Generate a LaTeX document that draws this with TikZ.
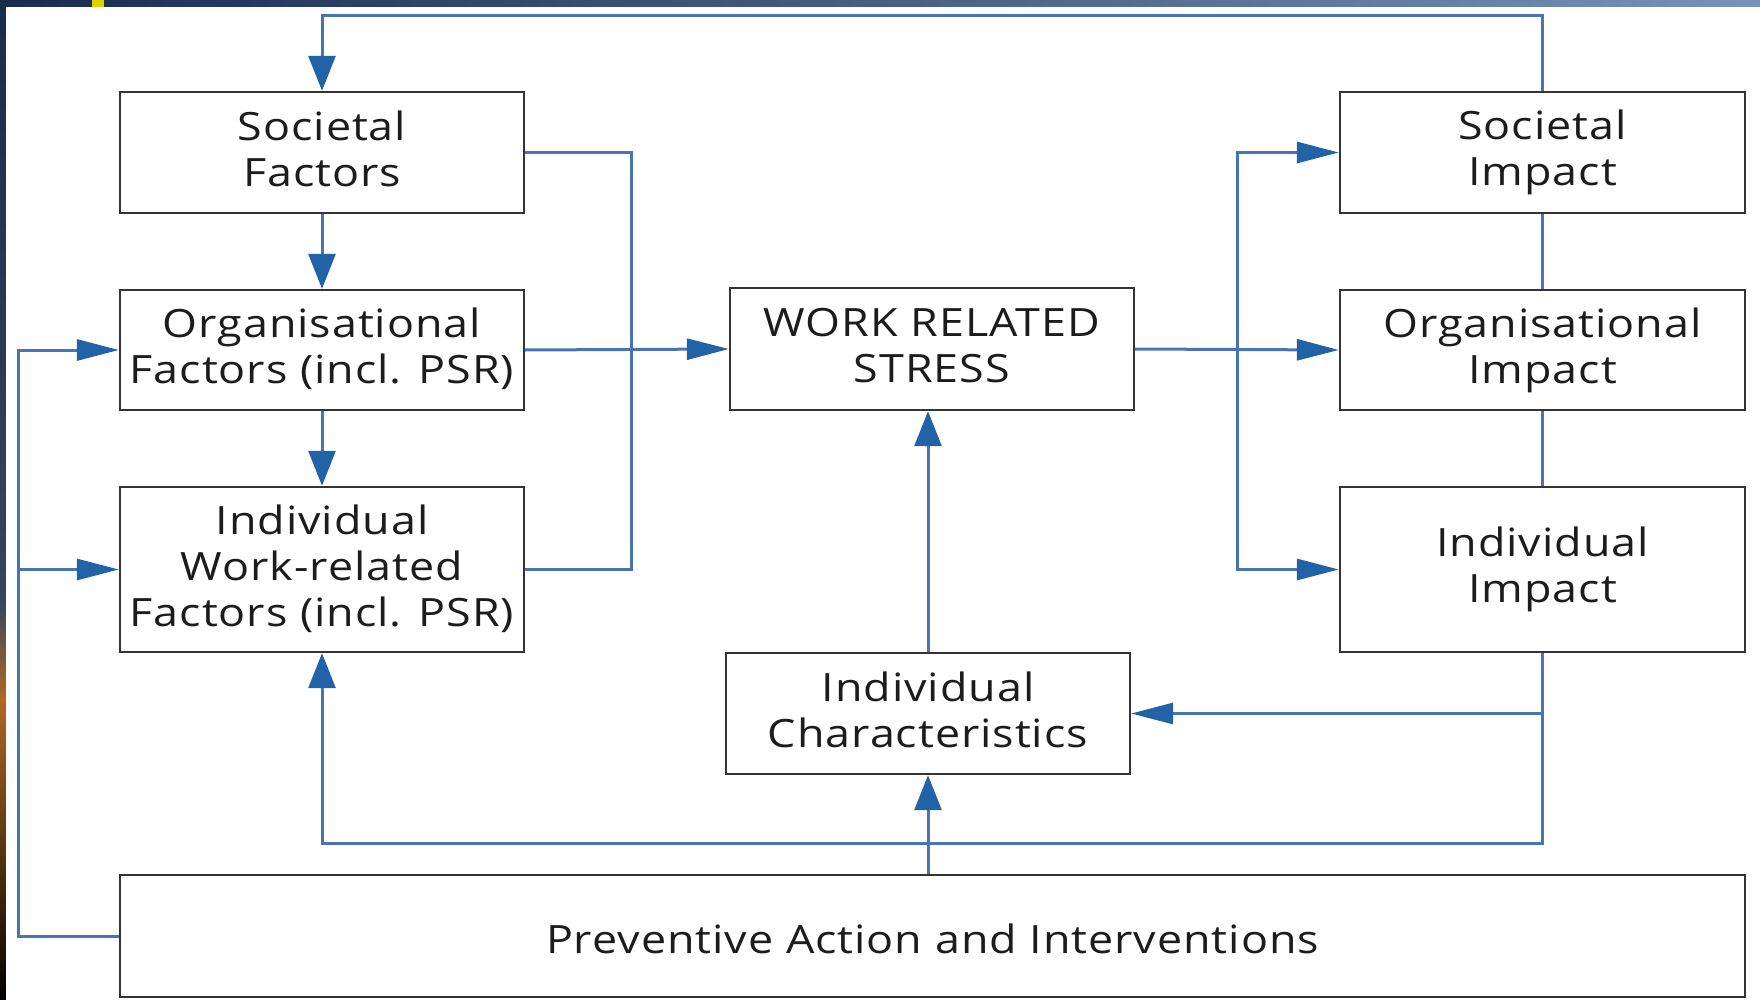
\documentclass[tikz,border=0pt]{standalone}
\usepackage{fontspec}
\setmainfont[FakeStretch=1.15,LetterSpace=2.5]{Open Sans}
\usepackage{tikz}
\usetikzlibrary{arrows.meta}
\definecolor{cLink}{RGB}{72,116,180}
\definecolor{cTip}{RGB}{34,98,166}
\definecolor{cBox}{RGB}{52,52,52}
\definecolor{cText}{RGB}{28,28,28}
\definecolor{cNavy}{RGB}{24,44,78}
\definecolor{cSteel}{RGB}{120,146,184}
\definecolor{cAmber}{RGB}{176,104,34}

\begin{document}
\begin{tikzpicture}[x=1pt,y=-1pt,
  box/.style={draw=cBox,line width=2.4pt,fill=white,minimum width=404pt,
    minimum height=121pt,align=center,inner sep=0pt,text=cText,
    font=\fontsize{39}{46}\selectfont,
    execute at begin node={\rule{0pt}{44pt}},
    execute at end node={\rule[-8pt]{0pt}{8pt}}},
  widebox/.style={box,minimum width=1625pt,minimum height=122pt,
    execute at begin node={\rule{0pt}{35pt}},
    execute at end node={\rule[-10pt]{0pt}{10pt}}},
  link/.style={draw=cLink,line width=3pt},
  htip/.style={-{Triangle[length=42pt,width=21pt,color=cTip]}},
  vtip/.style={-{Triangle[length=35pt,width=27pt,color=cTip]}}]
\useasboundingbox (0,0) rectangle (1760,1000);
% backdrop strips on top and left
\shade[left color=cNavy,right color=cSteel] (0,0) rectangle (1760,7);
\fill[yellow!70!olive] (92,0) rectangle (104,7);
\shade[top color=cNavy,bottom color=cNavy!70!gray] (0,0) rectangle (6,600);
\shade[top color=cNavy!70!gray,bottom color=cAmber] (0,600) rectangle (6,700);
\shade[top color=cAmber,bottom color=black] (0,700) rectangle (6,1000);
\fill[white] (6,7) rectangle (1760,1000);
% boxes
\node[box] (societal) at (322,152.5) {Societal\\Factors};
\node[box,minimum height=120pt] (org) at (322,350) {Organisational\\Factors (incl. PSR)};
\node[box,minimum height=165pt] (indiv) at (322,569.5) {Individual\\Work-related\\Factors (incl. PSR)};
\node[box,minimum height=122pt] (stress) at (932,349) {WORK RELATED\\STRESS};
\node[box] (chars) at (928,713.5) {Individual\\Characteristics};
\node[box,minimum width=405pt] (simpact) at (1542.5,152.5) {Societal\\Impact};
\node[box,minimum width=405pt,minimum height=120pt] (oimpact) at (1542.5,350) {Organisational\\Impact};
\node[box,minimum width=405pt,minimum height=165pt] (iimpact) at (1542.5,569.5) {Individual\\Impact};
\node[widebox] (prevent) at (932.5,936) {Preventive Action and Interventions};
% rails
\coordinate (roof) at (0,16);
\coordinate (floor) at (0,843);
\coordinate (lrail) at (18,0);
\coordinate (mrail) at (631,0);
\coordinate (rrail) at (1237,0);
% left column
\draw[link,vtip] (simpact.north) -- (simpact.north |- roof) -- (societal.north |- roof) -- (societal.north);
\draw[link,vtip] (societal.south) -- (org.north);
\draw[link,vtip] (org.south) -- (indiv.north);
\draw[link] (societal.east) -- (mrail |- societal.east) -- (mrail |- indiv.east) -- (indiv.east);
\draw[link,htip] (org.east) -- (stress.west);
% feedback from prevention
\draw[link,htip] (prevent.west) -- (lrail |- prevent.west) -- (lrail |- org.west) -- (org.west);
\draw[link,htip] (lrail |- indiv.west) -- (indiv.west);
\draw[link,vtip] (prevent.north -| chars.south) -- (chars.south);
\draw[link,vtip] (chars.north) -- (stress.south -| chars.north);
% impacts
\draw[link,htip] (stress.east) -- (oimpact.west);
\draw[link,{Triangle[length=42pt,width=21pt,color=cTip]}-{Triangle[length=42pt,width=21pt,color=cTip]}] (simpact.west) -- (rrail |- simpact.west) -- (rrail |- iimpact.west) -- (iimpact.west);
\draw[link] (simpact.south) -- (oimpact.north);
\draw[link] (oimpact.south) -- (iimpact.north);
\draw[link,vtip] (iimpact.south) -- (iimpact.south |- floor) -- (indiv.south |- floor) -- (indiv.south);
\draw[link,htip] (iimpact.south |- chars.east) -- (chars.east);
\end{tikzpicture}
\end{document}
